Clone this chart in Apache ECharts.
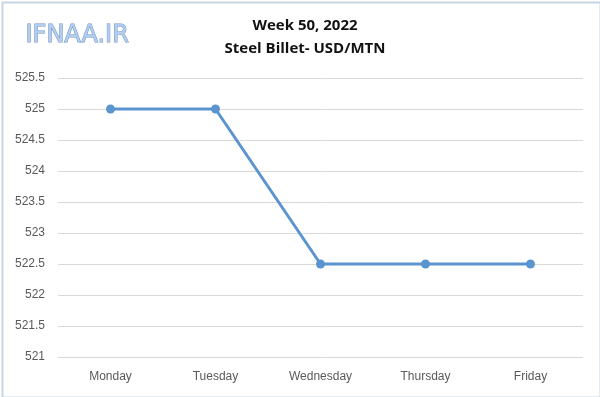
<!DOCTYPE html>
<html><head><meta charset="utf-8">
<script src="https://cdn.jsdelivr.net/npm/echarts@6/dist/echarts.min.js"></script>
<style>html,body{margin:0;padding:0;background:#fff}#c{width:600px;height:397px}</style>
</head><body><div id="c"></div>
<script>
const categories = ['Monday','Tuesday','Wednesday','Thursday','Friday'];
const prices = [525, 525, 522.5, 522.5, 522.5];
const titleLines = ['Week 50, 2022', 'Steel Billet- USD/MTN'];

const chart = echarts.init(document.getElementById('c'));
chart.setOption({
  animation: false,
  backgroundColor: '#fff',
  title: {
    text: titleLines[0] + '\n' + titleLines[1],
    left: 300, top: 9, textAlign: 'center',
    textStyle: {fontFamily: 'Open Sans', fontWeight: 'bold', fontSize: 15, color: '#111', lineHeight: 23}
  },
  graphic: [
    {type: 'rect', left: 0, top: 0, shape: {x: 1, y: 1, width: 598, height: 395},
     style: {fill: 'none', stroke: '#c8d5e2', lineWidth: 2}, silent: true},
    {type: 'text', left: 25, top: 23,
     style: {text: 'IFNAA.IR', font: '24px "DejaVu Sans"', fill: '#b3cdee', stroke: '#6f93c4', lineWidth: 1}}
  ],
  grid: {left: 58, right: 17, top: 78, bottom: 40},
  xAxis: {
    type: 'category', data: categories, boundaryGap: true,
    axisLine: {show: false}, axisTick: {show: false},
    axisLabel: {margin: 14, color: '#595959', fontFamily: 'Liberation Sans', fontSize: 12}
  },
  yAxis: {
    type: 'value', min: 521, max: 525.5, interval: 0.5,
    axisLine: {show: false}, axisTick: {show: false},
    splitLine: {lineStyle: {color: '#d9d9d9', width: 1}},
    axisLabel: {margin: 13, color: '#595959', fontFamily: 'Liberation Sans', fontSize: 12}
  },
  series: [{
    type: 'line', data: prices,
    lineStyle: {color: '#5b95cf', width: 3},
    itemStyle: {color: '#5b95cf'},
    symbol: 'circle', symbolSize: 9
  }]
});
</script></body></html>
